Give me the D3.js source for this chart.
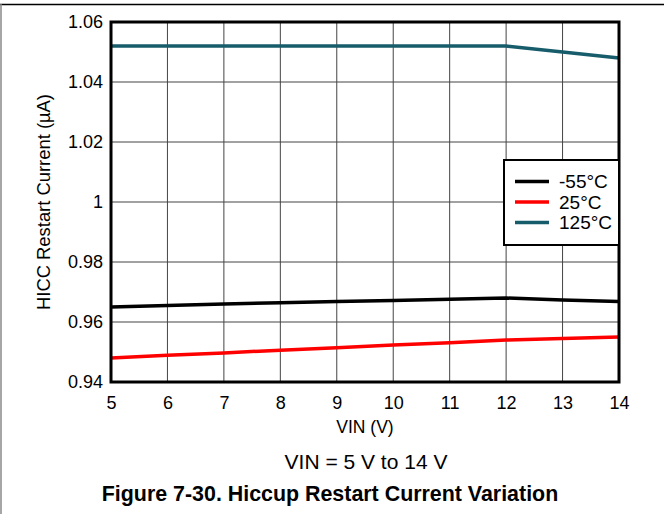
<!DOCTYPE html>
<html>
<head>
<meta charset="utf-8">
<script src="https://cdn.jsdelivr.net/npm/d3@7"></script>
<style>
  body { margin: 0; background: #fff; }
  svg { display: block; font-family: "Liberation Sans", Arial, sans-serif; }
</style>
</head>
<body>
<div id="chart"></div>
<script>
// Data
const vin = [5, 6, 7, 8, 9, 10, 11, 12, 13, 14];
const minus55 = [0.965, 0.9655, 0.966, 0.9664, 0.9668, 0.9672, 0.9676, 0.968, 0.9673, 0.9668];
const plus25 = [0.948, 0.9489, 0.9497, 0.9506, 0.9514, 0.9523, 0.9531, 0.954, 0.9545, 0.955];
const plus125 = [1.052, 1.052, 1.052, 1.052, 1.052, 1.052, 1.052, 1.052, 1.050, 1.048];
const yTicks = [0.94, 0.96, 0.98, 1, 1.02, 1.04, 1.06];
const seriesNames = ["-55°C", "25°C", "125°C"];
const seriesColors = ["#000000", "#ff0000", "#175c6b"];

const W = 664, H = 514;
const margin = {top: 22, right: 45, bottom: 132, left: 111},
    width = W - margin.left - margin.right,
    height = H - margin.top - margin.bottom;

const svgRoot = d3.select("#chart")
  .append("svg")
    .attr("width", W)
    .attr("height", H);

// outer frame: top black rule, left gray rule
svgRoot.append("line").attr("x1", 0).attr("x2", W).attr("y1", 4.5).attr("y2", 4.5)
  .attr("stroke", "#000").attr("stroke-width", 1.5);
svgRoot.append("line").attr("x1", 1).attr("x2", 1).attr("y1", 4).attr("y2", H)
  .attr("stroke", "#888").attr("stroke-width", 1.5);

const svg = svgRoot.append("g")
    .attr("transform", `translate(${margin.left},${margin.top})`);

const x = d3.scaleLinear().domain([5, 14]).range([0, width]);
const y = d3.scaleLinear().domain([0.94, 1.06]).range([height, 0]);

// grid
svg.append("g")
  .selectAll("line")
  .data(vin)
  .join("line")
    .attr("x1", d => x(d)).attr("x2", d => x(d))
    .attr("y1", 0).attr("y2", height)
    .attr("stroke", "#444").attr("stroke-width", 1);

svg.append("g")
  .selectAll("line")
  .data(yTicks)
  .join("line")
    .attr("x1", 0).attr("x2", width)
    .attr("y1", d => y(d)).attr("y2", d => y(d))
    .attr("stroke", "#444").attr("stroke-width", 1);

// tick labels
const xAxis = svg.append("g")
  .attr("transform", `translate(0,${height})`)
  .call(d3.axisBottom(x).tickValues(vin).tickSize(0).tickPadding(14).tickFormat(d3.format("d")));
xAxis.attr("font-size", 18).attr("font-family", null);
xAxis.select(".domain").remove();
xAxis.selectAll("text").attr("fill", "#000");

const yAxis = svg.append("g")
  .call(d3.axisLeft(y).tickValues(yTicks).tickSize(0).tickPadding(8).tickFormat(d => String(d)));
yAxis.attr("font-size", 18).attr("font-family", null);
yAxis.select(".domain").remove();
yAxis.selectAll("text").attr("fill", "#000");

// series
const series = [minus55, plus25, plus125];
const line = d3.line().x((d, i) => x(vin[i])).y(d => y(d));

svg.append("g")
  .selectAll("path")
  .data(series)
  .join("path")
    .attr("d", d => line(d))
    .attr("fill", "none")
    .attr("stroke", (d, i) => seriesColors[i])
    .attr("stroke-width", 3.5);

// plot border
svg.append("rect")
  .attr("width", width).attr("height", height)
  .attr("fill", "none").attr("stroke", "#000").attr("stroke-width", 3);

// legend
const legend = svg.append("g")
  .attr("transform", `translate(${width - 115},${138})`);
legend.append("rect")
  .attr("width", 115).attr("height", 85)
  .attr("fill", "#fff").attr("stroke", "#000").attr("stroke-width", 2);
const items = legend.selectAll("g.item")
  .data(seriesNames)
  .join("g")
    .attr("transform", (d, i) => `translate(0,${21.5 + i * 20.5})`);
items.append("line")
  .attr("x1", 11).attr("x2", 45)
  .attr("stroke", (d, i) => seriesColors[i]).attr("stroke-width", 3.5);
items.append("text")
  .attr("x", 55).attr("dy", "0.35em")
  .attr("font-size", 19)
  .text(d => d);

// axis titles
svg.append("text")
  .attr("x", width / 2).attr("y", height + 51)
  .attr("text-anchor", "middle").attr("font-size", 17.5)
  .text("VIN (V)");

svg.append("text")
  .attr("transform", `translate(${44 - margin.left},${height / 2}) rotate(-90)`)
  .attr("text-anchor", "middle").attr("dy", "0.35em").attr("font-size", 18.4)
  .text("HICC Restart Current (µA)");

// captions
svgRoot.append("text")
  .attr("x", margin.left + width / 2 + 1).attr("y", 469)
  .attr("text-anchor", "middle").attr("font-size", 21)
  .text("VIN = 5 V to 14 V");

svgRoot.append("text")
  .attr("x", 330).attr("y", 501)
  .attr("text-anchor", "middle").attr("font-size", 21.4).attr("font-weight", "bold")
  .text("Figure 7-30. Hiccup Restart Current Variation");
</script>
</body>
</html>
